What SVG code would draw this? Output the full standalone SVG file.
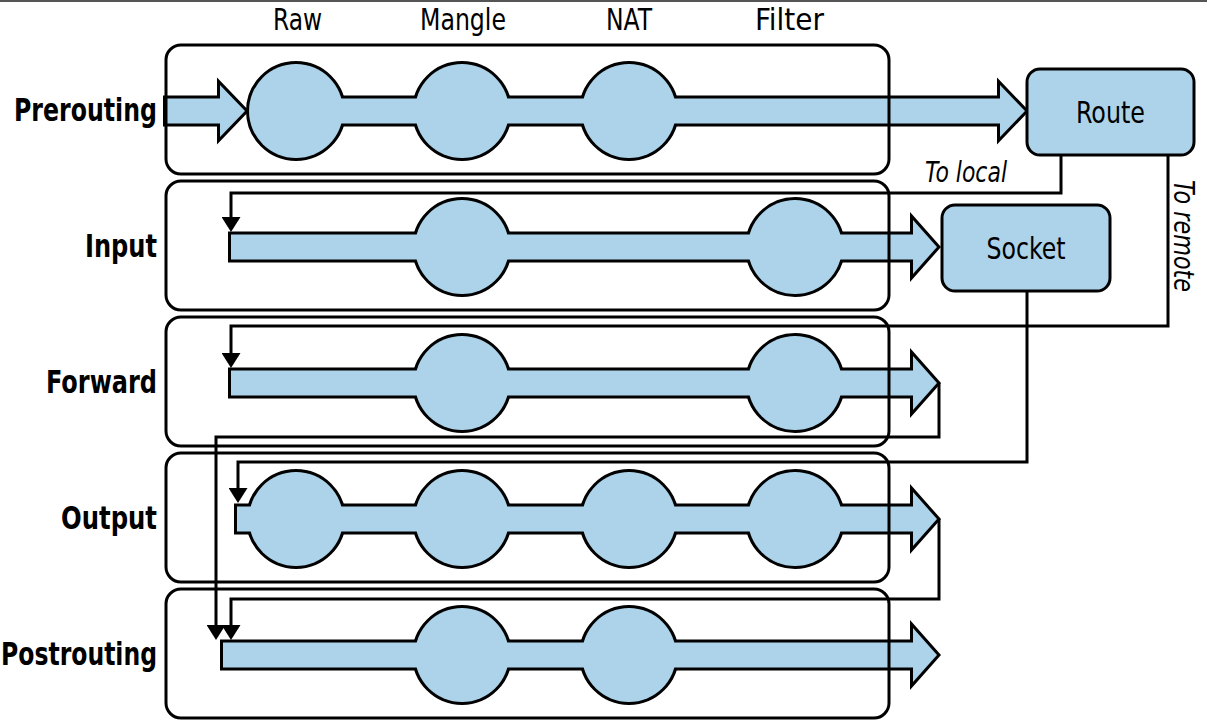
<svg xmlns="http://www.w3.org/2000/svg" width="1207" height="722" viewBox="0 0 1207 722">
<defs>
<style>
.under{fill:#000;stroke:#000;stroke-width:6;stroke-linejoin:miter}
.pipe{fill:#acd3e9;stroke:none}
.frame{fill:none;stroke:#000;stroke-width:3}
.box{fill:#acd3e9;stroke:#000;stroke-width:3}
.conn{fill:none;stroke:#000;stroke-width:3;stroke-linejoin:miter}
.hd{font-family:"DejaVu Sans Condensed","Liberation Sans",sans-serif;font-size:30px;fill:#000;text-anchor:middle}
.side{font-family:"DejaVu Sans Condensed","Liberation Sans",sans-serif;font-weight:bold;font-size:32px;fill:#000;text-anchor:end}
.lbl{font-family:"DejaVu Sans Condensed","Liberation Sans",sans-serif;font-size:30px;fill:#000;text-anchor:middle}
.it{font-family:"DejaVu Sans Condensed","Liberation Sans",sans-serif;font-style:italic;font-size:29px;fill:#000}
</style>
<marker id="ah" viewBox="0 0 15 19" refX="0" refY="9.5" markerWidth="15" markerHeight="19" markerUnits="userSpaceOnUse" orient="auto">
<path d="M0,0 L15,9.5 L0,19 z" fill="#000"/>
</marker>
<g id="s-pre">
<polygon points="166,98.5 220,98.5 220,85 245,111 220,137 220,123.5 166,123.5"/>
<circle cx="296" cy="111" r="47"/>
<circle cx="462" cy="111" r="47"/>
<circle cx="629" cy="111" r="47"/>
<polygon points="296,98.5 1000,98.5 1000,85 1025,111 1000,137 1000,123.5 296,123.5"/>
</g>
<g id="s-in">
<polygon points="231,234.5 913,234.5 913,220 937,247 913,274 913,259.5 231,259.5"/>
<circle cx="462" cy="247" r="47"/>
<circle cx="795" cy="247" r="47"/>
</g>
<g id="s-fw">
<polygon points="231,370.5 913,370.5 913,356 937,383 913,410 913,395.5 231,395.5"/>
<circle cx="462" cy="383" r="47"/>
<circle cx="795" cy="383" r="47"/>
</g>
<g id="s-out">
<polygon points="237,506.5 913,506.5 913,492 937,519 913,546 913,531.5 237,531.5"/>
<circle cx="296" cy="519" r="47"/>
<circle cx="462" cy="519" r="47"/>
<circle cx="629" cy="519" r="47"/>
<circle cx="795" cy="519" r="47"/>
</g>
<g id="s-post">
<polygon points="223,642.5 913,642.5 913,628 937,655 913,682 913,667.5 223,667.5"/>
<circle cx="462" cy="655" r="47"/>
<circle cx="629" cy="655" r="47"/>
</g>
</defs>
<rect width="1207" height="722" fill="#fff"/>
<line x1="0" y1="1" x2="1207" y2="1" stroke="#555" stroke-width="2"/>

<g id="headers">
<text class="hd" x="297.5" y="30" textLength="49" lengthAdjust="spacingAndGlyphs">Raw</text>
<text class="hd" x="463" y="30" textLength="86" lengthAdjust="spacingAndGlyphs">Mangle</text>
<text class="hd" x="629" y="30" textLength="46" lengthAdjust="spacingAndGlyphs">NAT</text>
<text class="hd" x="789.5" y="30" textLength="69" lengthAdjust="spacingAndGlyphs">Filter</text>
</g>

<g id="prerouting">
<use href="#s-pre" class="under"/>
<use href="#s-pre" class="pipe"/>
<rect class="frame" x="166" y="45" width="723" height="129" rx="15"/>
<text class="side" x="157" y="121" textLength="143" lengthAdjust="spacingAndGlyphs">Prerouting</text>
</g>
<g id="input">
<use href="#s-in" class="under"/>
<use href="#s-in" class="pipe"/>
<rect class="frame" x="166" y="181" width="723" height="129" rx="15"/>
<text class="side" x="157" y="257" textLength="72" lengthAdjust="spacingAndGlyphs">Input</text>
</g>
<g id="forward">
<use href="#s-fw" class="under"/>
<use href="#s-fw" class="pipe"/>
<rect class="frame" x="166" y="317" width="723" height="129" rx="15"/>
<text class="side" x="157" y="393" textLength="111" lengthAdjust="spacingAndGlyphs">Forward</text>
</g>
<g id="output">
<use href="#s-out" class="under"/>
<use href="#s-out" class="pipe"/>
<rect class="frame" x="166" y="453" width="723" height="129" rx="15"/>
<text class="side" x="157" y="529" textLength="96" lengthAdjust="spacingAndGlyphs">Output</text>
</g>
<g id="postrouting">
<use href="#s-post" class="under"/>
<use href="#s-post" class="pipe"/>
<rect class="frame" x="166" y="589" width="723" height="129" rx="15"/>
<text class="side" x="157" y="665" textLength="156" lengthAdjust="spacingAndGlyphs">Postrouting</text>
</g>

<g id="route">
<rect class="box" x="1027" y="69" width="167" height="86" rx="13"/>
<text class="lbl" x="1110.5" y="123" textLength="69" lengthAdjust="spacingAndGlyphs">Route</text>
</g>
<g id="socket">
<rect class="box" x="942" y="205" width="168" height="86" rx="13"/>
<text class="lbl" x="1026" y="259" textLength="79" lengthAdjust="spacingAndGlyphs">Socket</text>
</g>

<g id="connectors">
<path class="conn" d="M1061,155 V193 H231 V217" marker-end="url(#ah)"/>
<path class="conn" d="M1168,155 V326 H231 V353" marker-end="url(#ah)"/>
<path class="conn" d="M1027,291 V462 H238 V488" marker-end="url(#ah)"/>
<path class="conn" d="M939,383 V437 H216 V625" marker-end="url(#ah)"/>
<path class="conn" d="M939,519 V599 H231 V625" marker-end="url(#ah)"/>
<text class="it" x="925" y="182" textLength="82" lengthAdjust="spacingAndGlyphs">To local</text>
<text class="it" transform="translate(1174,180) rotate(90)" x="0" y="0" textLength="112" lengthAdjust="spacingAndGlyphs">To remote</text>
</g>
</svg>
